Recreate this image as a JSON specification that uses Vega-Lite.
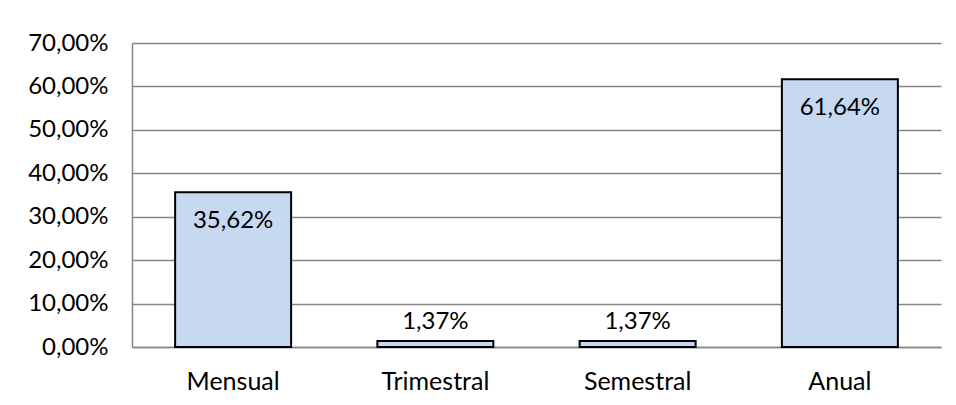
{
  "$schema": "https://vega.github.io/schema/vega-lite/v6.json",
  "autosize": "none",
  "width": 809,
  "height": 304,
  "padding": {"left": 132, "top": 43, "right": 15, "bottom": 58},
  "background": "white",
  "config": {
    "locale": {"number": {"decimal": ",", "thousands": ".", "grouping": [3], "currency": ["", " €"]}},
    "view": {"stroke": null},
    "font": "Lato",
    "text": {"font": "Lato"}
  },
  "data": {
    "values": [
      {"periodo": "Mensual", "valor": 0.3562},
      {"periodo": "Trimestral", "valor": 0.0137},
      {"periodo": "Semestral", "valor": 0.0137},
      {"periodo": "Anual", "valor": 0.6164}
    ]
  },
  "encoding": {
    "x": {
      "field": "periodo",
      "type": "nominal",
      "sort": null,
      "scale": {"paddingInner": 0.4265, "paddingOuter": 0.21325},
      "axis": {
        "title": null,
        "labelAngle": 0,
        "labelFont": "Lato",
        "labelFontSize": 25,
        "labelColor": "black",
        "labelPadding": 22,
        "ticks": false,
        "domainColor": "#868686",
        "domainWidth": 1.5,
        "grid": false
      }
    },
    "y": {
      "field": "valor",
      "type": "quantitative",
      "scale": {"domain": [0, 0.7], "nice": false},
      "axis": {
        "title": null,
        "values": [0, 0.1, 0.2, 0.3, 0.4, 0.5, 0.6, 0.7],
        "format": ".2%",
        "labelFont": "Lato",
        "labelFontSize": 24,
        "labelColor": "black",
        "labelPadding": 24,
        "ticks": false,
        "domainColor": "#868686",
        "domainWidth": 1.5,
        "gridColor": "#868686",
        "gridWidth": 1.5
      }
    }
  },
  "layer": [
    {
      "mark": {"type": "bar", "fill": "#C6D9F1", "stroke": "black", "strokeWidth": 2}
    },
    {
      "transform": [{"filter": "datum.valor > 0.1"}],
      "mark": {"type": "text", "baseline": "middle", "dy": 29, "fontSize": 24, "font": "Lato", "color": "black"},
      "encoding": {"text": {"field": "valor", "type": "quantitative", "format": ".2%"}}
    },
    {
      "transform": [{"filter": "datum.valor <= 0.1"}],
      "mark": {"type": "text", "baseline": "middle", "dy": -19, "fontSize": 24, "font": "Lato", "color": "black"},
      "encoding": {"text": {"field": "valor", "type": "quantitative", "format": ".2%"}}
    }
  ]
}
